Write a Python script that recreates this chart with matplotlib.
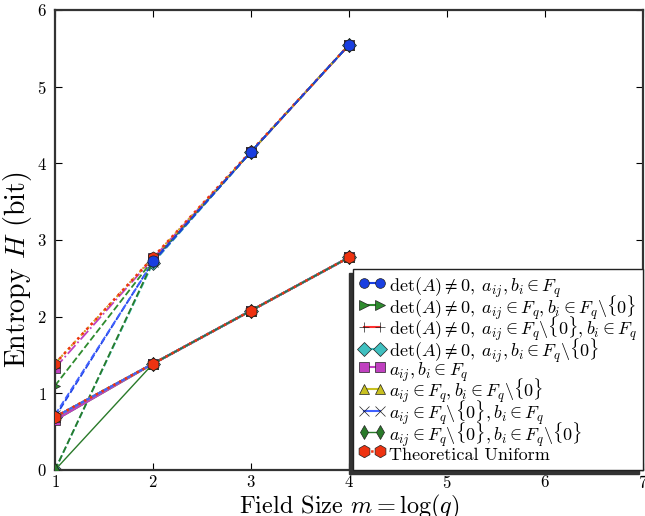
import numpy as np
import matplotlib
matplotlib.use("Agg")
import matplotlib.pyplot as plt

plt.rcParams['font.family'] = ['cmr10', 'DejaVu Serif']
plt.rcParams['mathtext.fontset'] = 'cm'
plt.rcParams['axes.formatter.use_mathtext'] = True
plt.rcParams['axes.unicode_minus'] = False

# field size m = log(q)
m = [1, 2, 3, 4]

labels = [
    r'$\det(A)\neq 0,\; a_{ij},b_i\in F_q$',
    r'$\det(A)\neq 0,\; a_{ij}\in F_q,b_i\in F_q\backslash\{0\}$',
    r'$\det(A)\neq 0,\; a_{ij}\in F_q\backslash\{0\},b_i\in F_q$',
    r'$\det(A)\neq 0,\; a_{ij},b_i\in F_q\backslash\{0\}$',
    r'$a_{ij},b_i\in F_q$',
    r'$a_{ij}\in F_q,b_i\in F_q\backslash\{0\}$',
    r'$a_{ij}\in F_q\backslash\{0\},b_i\in F_q$',
    r'$a_{ij}\in F_q\backslash\{0\},b_i\in F_q\backslash\{0\}$',
]
colors = ['#1a3fe0', '#2e8b2e', '#ff3030', '#40c0c0', '#c040c0', '#c8c020', '#4060ff', '#2a7a2a']
markers = ['o', '>', '+', 'D', 's', '^', 'x', 'd']
upper_styles = ['--', '--', ':', '--', '-.', ':', '--', '--']

# entropy, one unknown (solid lines)
H_single = [
    [0.69, 1.386, 2.079, 2.773],
    [0.65, 1.386, 2.079, 2.773],
    [0.69, 1.386, 2.079, 2.773],
    [0.69, 1.386, 2.079, 2.773],
    [0.65, 1.386, 2.079, 2.773],
    [0.69, 1.386, 2.079, 2.773],
    [0.69, 1.386, 2.079, 2.773],
    [0.00, 1.386, 2.079, 2.773],
]
# entropy, two unknowns (broken lines)
H_pair = [
    [0.69, 2.72, 4.15, 5.545],
    [1.10, 2.74, 4.15, 5.545],
    [1.39, 2.77, 4.15, 5.545],
    [0.00, 2.70, 4.15, 5.545],
    [1.33, 2.76, 4.15, 5.545],
    [1.39, 2.77, 4.15, 5.545],
    [0.72, 2.71, 4.15, 5.545],
    [0.00, 2.72, 4.15, 5.545],
]
H_uniform_single = [0.693, 1.386, 2.079, 2.773]
H_uniform_pair = [1.386, 2.773, 4.159, 5.545]

fig = plt.figure(figsize=(6.45, 5.16), dpi=100)
ax = fig.add_axes([55 / 645, 46 / 516, 588 / 645, 460 / 516])

for i in range(8):
    ax.plot(m, H_pair[i], color=colors[i], ls=upper_styles[i], lw=1.3,
            marker=markers[i], ms=7, mec='#202020', mew=0.5, zorder=2)
ax.plot(m, H_uniform_pair, color='#ee3311', ls=':', lw=1.8, marker='h', ms=8,
        mec='#202020', mew=0.5, zorder=2)
ax.plot(m[1:], H_pair[0][1:], color=colors[0], ls='--', lw=1.3, marker='o', ms=8,
        mec='#202020', mew=0.5, zorder=3)

for i in range(8):
    ax.plot(m, H_single[i], color=colors[i], ls='-', lw=1.5 if i != 7 else 1.0,
            marker=markers[i], ms=7, mec='#202020', mew=0.5, label=labels[i], zorder=4)
ax.plot(m, H_uniform_single, color='#ee3311', ls=':', lw=1.8, marker='h', ms=9,
        mec='#202020', mew=0.5, label='Theoretical Uniform', zorder=5)

ax.set_xlim(1, 7)
ax.set_ylim(0, 6)
ax.set_xticks(range(1, 8))
ax.set_yticks(range(0, 7))
ax.tick_params(direction='in', top=True, right=True, labelsize=12, length=5)
ax.tick_params(axis='x', pad=3)
ax.tick_params(axis='y', pad=6)
for s in ax.spines.values():
    s.set_linewidth(1.6)
    s.set_color('#333333')
ax.set_xlabel(r'Field Size $m = \log(q)$', fontsize=17.5)
ax.xaxis.set_label_coords(0.5, -0.05)
ax.set_ylabel(r'Entropy $H$ (bit)', fontsize=20)
ax.yaxis.set_label_coords(-0.036, 0.435)

leg = ax.legend(loc='lower right', numpoints=2, fontsize=13, borderaxespad=0,
                labelspacing=-0.36, handlelength=1.5, handleheight=1.5,
                handletextpad=0.2, borderpad=0.3, fancybox=False, framealpha=1,
                shadow={'ox': -3, 'oy': -3, 'color': '#333333', 'alpha': 1})
leg.get_frame().set_edgecolor('#222222')
leg.get_frame().set_linewidth(1.0)

fig.savefig('out.png', dpi=100)
